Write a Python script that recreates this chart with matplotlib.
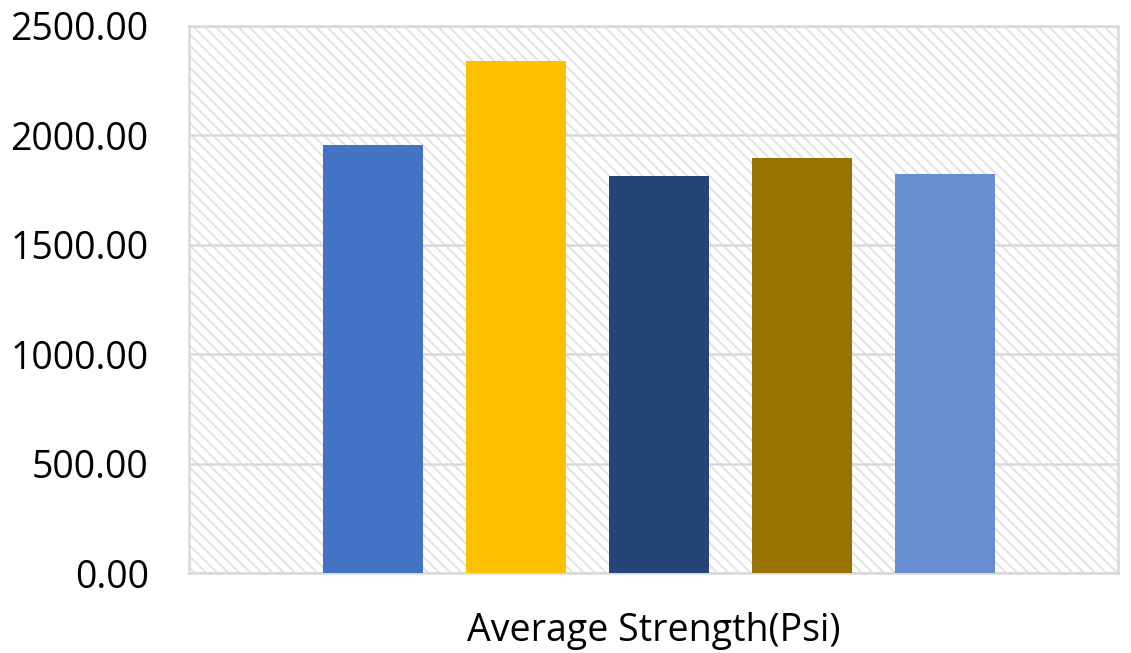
"""
Average compressive strength per mix, drawn as a single-group bar chart.
"""

import matplotlib.pyplot as plt
from matplotlib.patches import Rectangle
from matplotlib.ticker import FuncFormatter, MultipleLocator

plt.rcParams['font.family'] = ['Open Sans', 'DejaVu Sans']
plt.rcParams['hatch.linewidth'] = 1.4

# Data: five mixes, one category
mixes = ['Mix 1', 'Mix 2', 'Mix 3', 'Mix 4', 'Mix 5']
strength = [1956, 2340, 1814, 1897, 1823]
colors = ['#4472C4', '#FFC000', '#264478', '#997300', '#698ED0']
category = 'Average Strength(Psi)'

fig = plt.figure(figsize=(11.31, 6.53), dpi=100)
ax = fig.add_axes([0.1671, 0.1225, 0.8214, 0.8377])

# Light diagonal hatch behind the plot area
bg = Rectangle((0, 0), 1, 1, transform=ax.transAxes, facecolor='white',
               edgecolor='#e2e2e2', hatch='\\\\\\', linewidth=0, zorder=0)
ax.add_patch(bg)

x = range(len(mixes))
ax.bar(x, strength, width=0.7, color=colors, zorder=3)

ax.set_xlim(-1.287, 5.21)
ax.set_ylim(0, 2500)
ax.yaxis.set_major_locator(MultipleLocator(500))
ax.yaxis.set_major_formatter(FuncFormatter(lambda v, p: f'{v:.2f}'))

ax.grid(axis='y', color='#d9d9d9', linewidth=1.8, zorder=1)
ax.set_axisbelow(True)
for s in ax.spines.values():
    s.set_color('#d9d9d9')
    s.set_linewidth(1.8)

ax.set_xticks([])
ax.tick_params(axis='y', length=0, pad=29, labelsize=27)
ax.set_xlabel(category, fontsize=27, labelpad=28)

plt.savefig('out.png', dpi=100)
